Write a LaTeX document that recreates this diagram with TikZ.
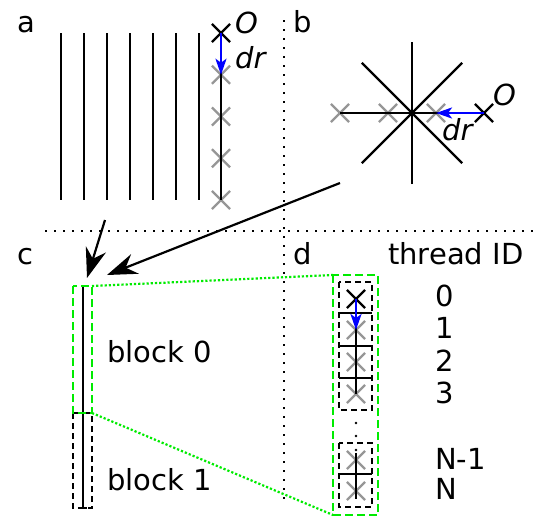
\documentclass[tikz,border=0pt]{standalone}
\usepackage{fontspec}
\setmainfont{DejaVu Sans}
\usetikzlibrary{shapes.misc,arrows.meta,calc}
\definecolor{brightgreen}{RGB}{0,235,0}
\definecolor{crossgrey}{RGB}{150,150,150}
\begin{document}
\begin{tikzpicture}[x=1pt,y=-1pt,
  font=\fontsize{29}{34}\selectfont,
  lbl/.style={anchor=base west, inner sep=0},
  xmark/.style={cross out, draw=crossgrey, line width=2.2pt, minimum size=16pt, inner sep=0},
  xorigin/.style={xmark, draw=black},
  ln/.style={line width=2.3pt},
  bigarrow/.style={line width=2.2pt, -{Stealth[length=30pt,width=21pt,inset=10pt]}},
  bluearrow/.style={blue, line width=2.4pt, -{Stealth[length=16pt,width=11pt,inset=4pt]}},
  sepline/.style={line width=2.2pt, dash pattern=on 2.2pt off 6.8pt},
  gdotted/.style={brightgreen, line width=2.2pt, dash pattern=on 2.2pt off 2pt},
  gdashed/.style={brightgreen, line width=2.4pt, dash pattern=on 8pt off 4pt},
  kdashed/.style={black, line width=2.2pt, dash pattern=on 6pt off 4pt},
  ellipsisdot/.style={circle, fill=black, inner sep=0, minimum size=2.8pt}]
\useasboundingbox (0,0) rectangle (535,517);

% separators
\coordinate (vs1) at (284,20);
\coordinate (vs2) at (284,505);
\coordinate (hs1) at (45,231);
\coordinate (hs2) at (535,231);
\draw[sepline] (vs1) -- (vs2);
\draw[sepline] (hs1) -- (hs2);

% panel labels
\node[lbl] (la) at (17,32) {a};
\node[lbl] (lb) at (293,32) {b};
\node[lbl] (lc) at (17,264) {c};
\node[lbl] (ld) at (293,264) {d};

% ---------- panel a ----------
\foreach \x [count=\i] in {61,84,107,130,153,176,199}{
  \coordinate (at\i) at (\x,33);
  \coordinate (ab\i) at (\x,200);
  \draw[ln] (at\i) -- (ab\i);
}
\node[xorigin] (aO) at (221,33) {};
\node[xmark] (a1) at (221,74.75) {};
\node[xmark] (a2) at (221,116.5) {};
\node[xmark] (a3) at (221,158.25) {};
\node[xmark] (a4) at (221,200) {};
\draw[ln] (aO.center) -- (a4.center);
\draw[bluearrow] (aO.center) -- (a1.center);
\node[lbl] (aOl) at (235,33) {\itshape O};
\node[lbl] (adr) at (235,68) {\itshape dr};

% ---------- panel b ----------
\coordinate (bc) at (412,113);
\foreach \a in {45,90,135,225,270,315}{
  \coordinate (bs\a) at ($(bc)+(\a:71)$);
}
\node[xmark] (b1) at (340,113) {};
\node[xmark] (b2) at (388,113) {};
\node[xmark] (b3) at (436,113) {};
\node[xorigin] (bO) at (484,113) {};
\draw[ln] (bs90) -- (bs270);
\draw[ln] (bs45) -- (bs225);
\draw[ln] (bs135) -- (bs315);
\draw[ln] (b1.center) -- (bO.center);
\draw[bluearrow] (bO.center) -- (b3.center);
\node[lbl] (bOl) at (493,105) {\itshape O};
\node[lbl] (bdr) at (442,140) {\itshape dr};

% ---------- panel c ----------
\coordinate (ctop) at (83,286);
\coordinate (cmid) at (83,413);
\coordinate (cbot) at (83,508);
\draw[kdashed] (73,413) rectangle (92,508);
\draw[ln] (ctop) -- (cbot);
\draw[ln] (73,413) -- (92,413);
\draw[ln] (78,508) -- (87,508);
\draw[gdashed] (73,286) rectangle (92,413);
\node[lbl] (blk0) at (107,362) {block 0};
\node[lbl] (blk1) at (107,490) {block 1};

% big arrows
\coordinate (arA1) at (105,220);
\coordinate (arA2) at (87,278);
\coordinate (arB1) at (340,183);
\coordinate (arB2) at (107,275);
\draw[bigarrow] (arA1) -- (arA2);
\draw[bigarrow] (arB1) -- (arB2);

% ---------- panel d ----------
\node[lbl] (tid) at (388,264) {thread ID};
\draw[gdashed] (333,275) rectangle (378,515);
\draw[kdashed] (339,282) rectangle (372,410);
\draw[kdashed] (339,443) rectangle (372,507);
\node[xorigin] (d0) at (356,299) {};
\node[xmark] (d1) at (356,330) {};
\node[xmark] (d2) at (356,362) {};
\node[xmark] (d3) at (356,394) {};
\node[xmark] (dN1) at (356,460) {};
\node[xmark] (dN) at (356,491) {};
\draw[ln] (d0.center) -- (d3.center);
\draw[ln] (356,453) -- (356,499);
\foreach \y in {313,346,378,474}{ \draw[ln] (339,\y) -- (372,\y); }
\draw[bluearrow] (d0.center) -- (d1.center);
\node[ellipsisdot] (e1) at (356,423) {};
\node[ellipsisdot] (e2) at (356,436) {};
\node[ellipsisdot] (e3) at (356,450) {};

\node[lbl] (t0) at (435,306) {0};
\node[lbl] (t1) at (435,338) {1};
\node[lbl] (t2) at (435,371) {2};
\node[lbl] (t3) at (435,403) {3};
\node[lbl] (tN1) at (435,469) {N-1};
\node[lbl] (tN) at (435,499) {N};

% zoom lines
\coordinate (zc1) at (92,286);
\coordinate (zc2) at (92,413);
\coordinate (zd1) at (333,275);
\coordinate (zd2) at (333,515);
\draw[gdotted] (zc1) -- (zd1);
\draw[gdotted] (zc2) -- (zd2);
\end{tikzpicture}
\end{document}
